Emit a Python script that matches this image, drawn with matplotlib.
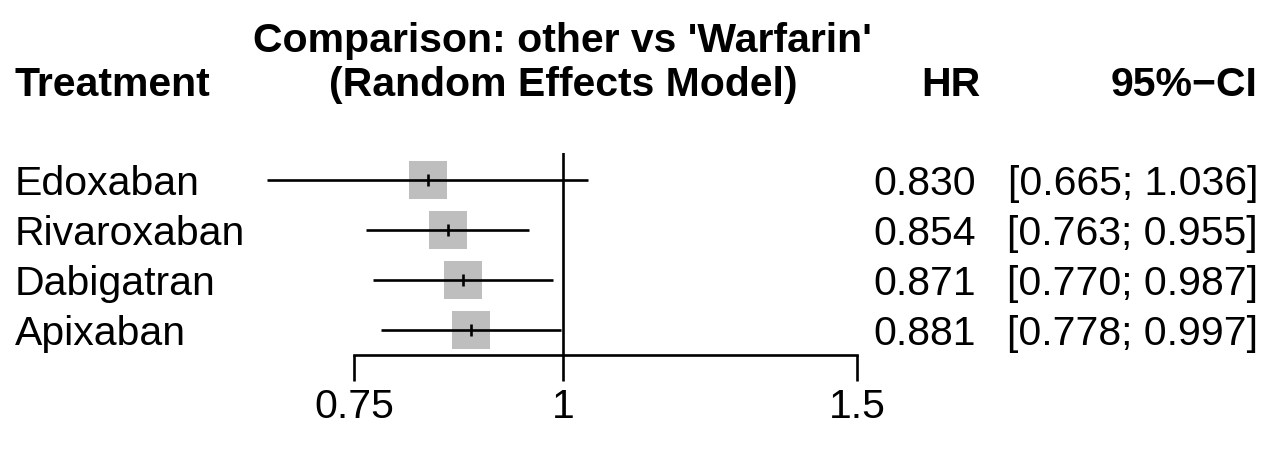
import matplotlib
matplotlib.use("Agg")
import matplotlib.pyplot as plt
import matplotlib.transforms as mtransforms
from matplotlib.ticker import FixedLocator, FixedFormatter, NullLocator

plt.rcParams['font.family'] = ['Liberation Sans', 'DejaVu Sans']

# data
treatments = ['Edoxaban', 'Rivaroxaban', 'Dabigatran', 'Apixaban']
hr = [0.830, 0.854, 0.871, 0.881]
ci_low = [0.665, 0.763, 0.770, 0.778]
ci_high = [1.036, 0.955, 0.987, 0.997]
tick_vals = [0.75, 1, 1.5]
tick_labels = ['0.75', '1', '1.5']

fs = 29.5
lw = 1.9

fig = plt.figure(figsize=(12.66, 4.5), dpi=100)
ax = fig.add_axes([354 / 1266, 1 - 355 / 450, (857 - 354) / 1266, (355 - 153) / 450])
ax.set_xscale('log')
ax.set_xlim(0.75, 1.5)
ax.set_ylim(len(treatments) - 0.5, -0.53)

rows = list(range(len(treatments)))
for i in rows:
    ax.plot([ci_low[i], ci_high[i]], [i, i], color='black', lw=lw,
            solid_capstyle='butt', clip_on=False, zorder=2)
ax.plot(hr, rows, ls='none', marker='s', markersize=27.5, color='#BEBEBE',
        markeredgewidth=0, clip_on=False, zorder=1)
ax.plot(hr, rows, ls='none', marker='|', markersize=9, markeredgewidth=lw,
        color='black', clip_on=False, zorder=3)
ax.axvline(1, color='black', lw=lw, zorder=2)

for s in ['top', 'right', 'left']:
    ax.spines[s].set_visible(False)
ax.spines['bottom'].set_linewidth(lw)
ax.spines['bottom'].set_bounds(0.75, 1.5)
ax.set_yticks([])
ax.xaxis.set_major_locator(FixedLocator(tick_vals))
ax.xaxis.set_major_formatter(FixedFormatter(tick_labels))
ax.xaxis.set_minor_locator(NullLocator())
ax.tick_params(axis='x', length=19, width=lw, pad=5, labelsize=fs)
ax.patch.set_visible(False)

# row text
tr = mtransforms.blended_transform_factory(fig.transFigure, ax.transData)
for i in rows:
    fig.text(15 / 1266, i + 0.3, treatments[i], fontsize=fs, transform=tr,
             va='baseline', ha='left')
    fig.text(976 / 1266, i + 0.3, f'{hr[i]:.3f}', fontsize=fs, transform=tr,
             va='baseline', ha='right')
    fig.text(1258 / 1266, i + 0.3, f'[{ci_low[i]:.3f}; {ci_high[i]:.3f}]',
             fontsize=fs, transform=tr, va='baseline', ha='right')

# headers
trc = mtransforms.blended_transform_factory(ax.transData, fig.transFigure)
fig.text(1, 1 - 52 / 450, "Comparison: other vs 'Warfarin'", transform=trc,
         fontsize=fs, fontweight='bold', ha='center', va='baseline')
fig.text(1, 1 - 96 / 450, "(Random Effects Model)", transform=trc,
         fontsize=fs, fontweight='bold', ha='center', va='baseline')
fig.text(15 / 1266, 1 - 96 / 450, 'Treatment', fontsize=fs, fontweight='bold',
         ha='left', va='baseline')
fig.text(980 / 1266, 1 - 96 / 450, 'HR', fontsize=fs, fontweight='bold',
         ha='right', va='baseline')
fig.text(1258 / 1266, 1 - 96 / 450, '95%\u2212CI', fontsize=fs, fontweight='bold',
         ha='right', va='baseline')

fig.savefig('out.png', dpi=100)
